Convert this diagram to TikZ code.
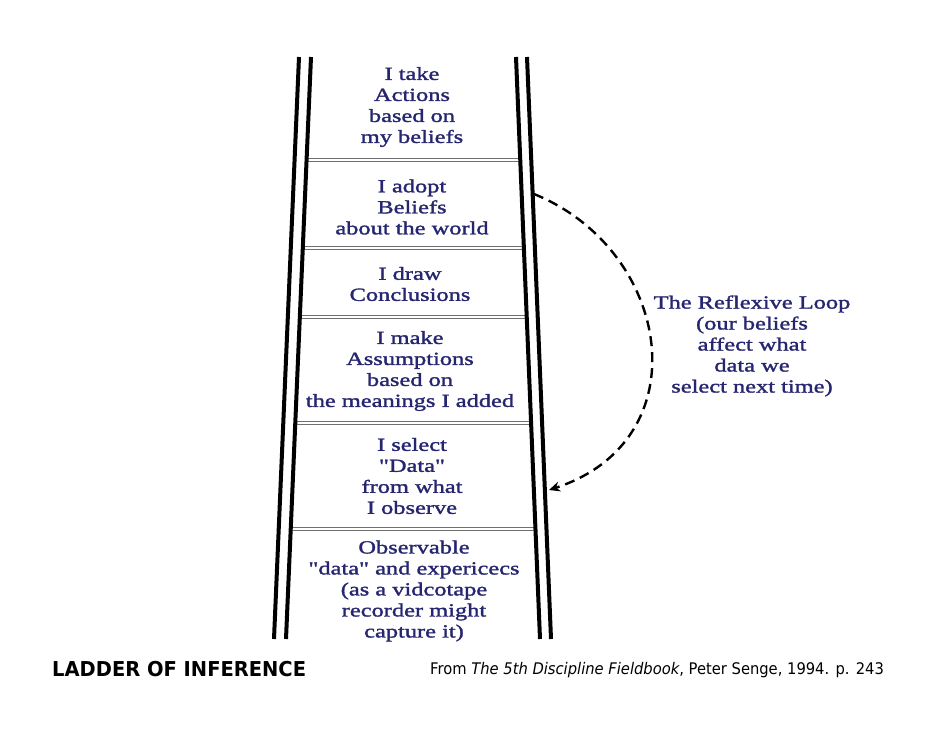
\documentclass[tikz,border=0pt]{standalone}
\usepackage{fontspec}
\setmainfont[FakeStretch=1.32, FakeBold=1.6, Ligatures=TeXOff]{Liberation Serif}
\newfontfamily\titlesans[FakeStretch=0.95]{DejaVu Sans}
\newfontfamily\citesans[FakeStretch=0.92]{DejaVu Sans}
\usetikzlibrary{arrows.meta}
\definecolor{navy}{HTML}{262670}
\definecolor{rungc}{HTML}{707070}
\tikzset{
  ladtext/.style={align=center, text=navy, inner sep=0pt,
    font=\fontsize{18.5}{21}\selectfont},
  rail/.style={line width=4pt, black},
  rung/.style={line width=1pt, rungc},
  loop/.style={line width=2.4pt, dash pattern=on 10pt off 6pt,
    -{Stealth[length=11pt,width=10pt]}},
}
\begin{document}
\begin{tikzpicture}[x=1pt,y=-1pt]
\useasboundingbox (0,0) rectangle (942,728);
% rails
\coordinate (lot) at (299,57);  \coordinate (lob) at (274,639);
\coordinate (lit) at (311,57);  \coordinate (lib) at (286,639);
\coordinate (rit) at (516,57);  \coordinate (rib) at (540,639);
\coordinate (rot) at (527,57);  \coordinate (rob) at (551,639);
% rungs (double lines)
\foreach \y/\l/\r in {160/306.6/520.2, 248/302.8/523.9, 317/299.8/526.7, 423/295.3/531.1, 529/290.7/535.5}{
  \draw[rung] (\l,\y-1.6) -- (\r,\y-1.6);
  \draw[rung] (\l,\y+1.6) -- (\r,\y+1.6);
}
\draw[rail] (lot) -- (lob);
\draw[rail] (lit) -- (lib);
\draw[rail] (rit) -- (rib);
\draw[rail] (rot) -- (rob);
% texts
\node[ladtext] (act) at (412,107) {I take\\Actions\\based on\\my beliefs};
\node[ladtext] (bel) at (412,207) {I adopt\\Beliefs\\about the world};
\node[ladtext] (con) at (410,284) {I draw\\Conclusions};
\node[ladtext] (ass) at (410,371) {I make\\Assumptions\\based on\\the meanings I added};
\node[ladtext] (dat) at (412,476) {I select\\"Data"\\from what\\I observe};
\node[ladtext] (obs) at (414,591) {Observable\\"data" and expericecs\\(as a vidcotape\\recorder might\\capture it)};
\node[ladtext] (ref) at (752,346) {The Reflexive Loop\\(our beliefs\\affect what\\data we\\select next time)};
% reflexive loop
\coordinate (ls) at (534,194);
\coordinate (le) at (549,490);
\draw[loop] (ls) .. controls (672,250) and (702,440) .. (le);
% footer
\node[anchor=west, inner sep=0pt, font=\titlesans\bfseries\fontsize{20.5}{24}\selectfont] (title) at (52,669) {LADDER OF INFERENCE};
\node[anchor=west, inner sep=0pt, font=\citesans\fontsize{16}{19}\selectfont] (cite) at (430,670) {From \textit{The 5th Discipline Fieldbook}, Peter Senge, 1994. p. 243};
\end{tikzpicture}
\end{document}
